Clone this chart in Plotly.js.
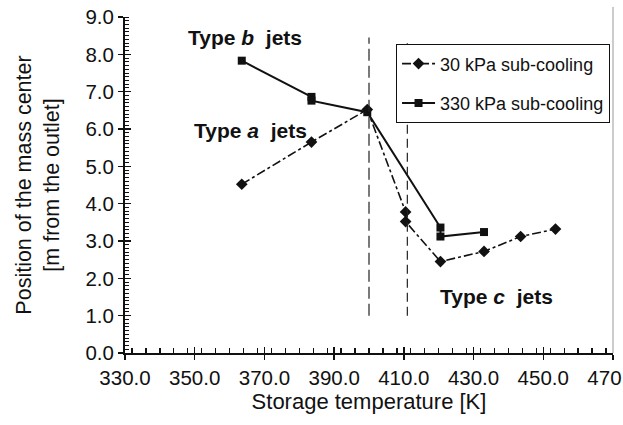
<!DOCTYPE html>
<html><head><meta charset="utf-8">
<script src="https://cdn.plot.ly/plotly-3.0.1.min.js"></script>
<style>body{margin:0;background:#fff}#c{width:623px;height:425px}</style>
</head><body><div id="c"></div>
<script>
const t30 = [363.5, 383.5, 399.5, 410.5, 410.5, 420.5, 433.0, 443.5, 453.5];
const y30 = [4.52, 5.65, 6.52, 3.78, 3.52, 2.45, 2.72, 3.12, 3.32];
const t330 = [363.5, 383.5, 383.5, 399.5, 420.5, 420.5, 433.0];
const y330 = [7.83, 6.86, 6.76, 6.45, 3.36, 3.12, 3.24];
const boundaryT = [400, 411];
const boundaryTop = [8.45, 8.3];
const boundaryBottom = 1.0;
const xTicks = [330, 350, 370, 390, 410, 430, 450, 470];
const yTicks = [0, 1, 2, 3, 4, 5, 6, 7, 8, 9];

const F = 'Arial, "Liberation Sans", sans-serif';
const traces = [
  {x: t30, y: y30, name: '30 kPa sub-cooling', mode: 'lines+markers', legendgroup: 'a',
   line: {color: '#111', width: 1.6, dash: 'dashdot'},
   marker: {symbol: 'diamond', size: 9, color: '#111'}},
  {x: t330, y: y330, name: '330 kPa sub-cooling', mode: 'lines+markers', legendgroup: 'b',
   line: {color: '#111', width: 2}, marker: {symbol: 'square', size: 8, color: '#111'}},
  {x: [boundaryT[0], boundaryT[0]], y: [boundaryBottom, boundaryTop[0]], mode: 'lines',
   showlegend: false, line: {color: '#222', width: 1.2, dash: '12px,5px'}, hoverinfo: 'skip'},
  {x: [boundaryT[1], boundaryT[1]], y: [boundaryBottom, boundaryTop[1]], mode: 'lines',
   showlegend: false, line: {color: '#222', width: 1.2, dash: '9px,5px'}, hoverinfo: 'skip'},
  {x: [330], y: [0], xaxis: 'x2', yaxis: 'y2', mode: 'markers', marker: {opacity: 0},
   showlegend: false, hoverinfo: 'skip'}
];

const axisCommon = {
  showgrid: false, zeroline: false, showline: true, linecolor: '#111', linewidth: 2,
  ticks: 'outside', ticklen: 5, tickwidth: 1.5, tickcolor: '#111', ticklabeloverflow: 'allow',
  tickfont: {family: F, size: 20.5, color: '#111'}, tickformat: '.1f'
};

const layout = {
  width: 623, height: 425,
  margin: {l: 125, r: 10, t: 17, b: 71.5},
  paper_bgcolor: '#fff', plot_bgcolor: '#fff',
  font: {family: F, color: '#111'},
  showlegend: true,
  legend: {x: 0.555, y: 0.919, xanchor: 'left', yanchor: 'top',
    bordercolor: '#111', borderwidth: 1.2, bgcolor: '#fff',
    font: {family: F, size: 18, color: '#111'}, tracegroupgap: 13, itemwidth: 33},
  xaxis: Object.assign({}, axisCommon, {
    range: [330, 470.001], tickvals: xTicks,
    minor: {dtick: 4, ticks: 'inside', ticklen: 5, tickcolor: '#111', tickwidth: 1.3},
    title: {text: 'Storage temperature [K]', font: {family: F, size: 22, color: '#111'}, standoff: 4}
  }),
  yaxis: Object.assign({}, axisCommon, {
    range: [0, 9], tickvals: yTicks,
    minor: {dtick: 0.1, ticks: 'inside', ticklen: 4, tickcolor: '#111', tickwidth: 1},
    title: {text: 'Position of the mass center<br>[m from the outlet]', font: {family: F, size: 21.5, color: '#111'}, standoff: 20}
  }),
  xaxis2: {overlaying: 'x', matches: 'x', range: [330, 470.001], tickvals: xTicks, ticks: 'inside', ticklen: 6,
    tickwidth: 1.5, tickcolor: '#111', showticklabels: false, showgrid: false, zeroline: false, showline: false},
  yaxis2: {overlaying: 'y', range: [0, 9], tickvals: yTicks, ticks: 'inside', ticklen: 6,
    tickwidth: 1.5, tickcolor: '#111', showticklabels: false, showgrid: false, zeroline: false, showline: false},
  shapes: [
    {type: 'line', xref: 'paper', yref: 'paper', x0: 1, x1: 1, y0: 0, y1: 1.03,
     line: {color: '#999', width: 1}}
  ],
  annotations: [
    {x: 364.4, y: 8.44, text: '<b>Type <i>b</i>  jets</b>', showarrow: false, font: {family: F, size: 21, color: '#111'}},
    {x: 365.9, y: 5.95, text: '<b>Type <i>a</i>  jets</b>', showarrow: false, font: {family: F, size: 21, color: '#111'}},
    {x: 436.7, y: 1.51, text: '<b>Type <i>c</i>  jets</b>', showarrow: false, font: {family: F, size: 21, color: '#111'}}
  ]
};
Plotly.newPlot('c', traces, layout, {displayModeBar: false, staticPlot: true});
</script></body></html>
